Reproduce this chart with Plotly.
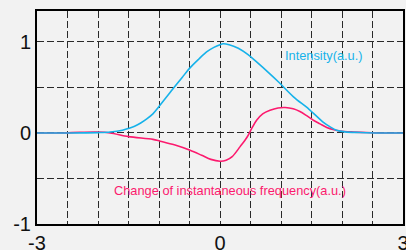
import numpy as np
import plotly.graph_objects as go

# Intensity curve (blue)
x_int = [-3.0, -2.5, -2.0, -1.8, -1.6, -1.5, -1.4, -1.3, -1.2, -1.1, -1.0, -0.9, -0.8, -0.62, -0.5,
         -0.35, -0.22, -0.1, 0.0, 0.05, 0.15, 0.3, 0.46, 0.6, 0.8, 0.96, 1.2, 1.46,
         1.69, 1.8, 1.91, 2.05, 2.3, 2.6, 3.0]
intensity = [0.0, 0.0, 0.004, 0.01, 0.03, 0.05, 0.075, 0.11, 0.155, 0.21, 0.29, 0.375, 0.46, 0.61, 0.71,
             0.81, 0.89, 0.94, 0.97, 0.98, 0.97, 0.93, 0.86, 0.78, 0.66, 0.56, 0.40, 0.26,
             0.12, 0.07, 0.03, 0.012, 0.005, 0.0, 0.0]

# Change of instantaneous frequency (pink)
x_freq = [-3.0, -2.6, -2.3, -2.0, -1.8, -1.5, -1.1, -0.98, -0.75, -0.49, -0.3, -0.15, 0.0, 0.1,
          0.2, 0.33, 0.44, 0.52, 0.6, 0.7, 0.82, 0.95, 1.07, 1.2, 1.31, 1.42, 1.53, 1.64, 1.75,
          1.87, 1.97, 2.15, 2.4, 2.7, 3.0]
freq = [0.0, 0.0, 0.008, 0.01, 0.0, -0.04, -0.07, -0.09, -0.13, -0.19, -0.245, -0.29, -0.31, -0.30,
        -0.26, -0.15, -0.05, 0.05, 0.14, 0.21, 0.25, 0.275, 0.28, 0.265, 0.235, 0.19, 0.14, 0.10, 0.06,
        0.035, 0.022, 0.012, 0.005, 0.0, 0.0]

x_ticks = [-3, -2.5, -2, -1.5, -1, -0.5, 0, 0.5, 1, 1.5, 2, 2.5, 3]
x_ticklabels = ["-3", "", "", "", "", "", "0", "", "", "", "", "", "3"]
y_ticks = [-1, -0.5, 0, 0.5, 1]
y_ticklabels = ["-1", "", "0", "", "1"]

BLUE = "#16b2ea"
PINK = "#fc1a6e"
BG = "#f2f2f2"

fig = go.Figure()
fig.add_trace(go.Scatter(x=x_freq, y=freq, mode="lines", line=dict(color=PINK, width=1.6, shape="spline", smoothing=0.9),
                         showlegend=False, hoverinfo="skip"))
fig.add_trace(go.Scatter(x=x_int, y=intensity, mode="lines", line=dict(color=BLUE, width=1.6, shape="spline", smoothing=0.9),
                         showlegend=False, hoverinfo="skip"))

fig.add_annotation(x=1.70, y=0.85, text="Intensity(a.u.)", showarrow=False,
                   font=dict(family="Liberation Sans, Arial", size=12.8, color=BLUE))
fig.add_annotation(x=0.16, y=-0.63, text="Change of instantaneous frequency(a.u.)", showarrow=False,
                   font=dict(family="Liberation Sans, Arial", size=12.8, color=PINK))

axis_common = dict(showline=True, linecolor="black", linewidth=2, mirror=True,
                   showgrid=True, gridcolor="#2a2a2a", gridwidth=1.4, griddash="7px,3px",
                   zeroline=False, ticks="", automargin=False, ticklabeloverflow="allow",
                   tickfont=dict(family="Liberation Sans, Arial", size=20, color="#111111"))

fig.update_xaxes(range=[-3, 3], tickmode="array", tickvals=x_ticks, ticktext=x_ticklabels, **axis_common)
fig.update_yaxes(range=[-1, 1.34], tickmode="array", tickvals=y_ticks, ticktext=y_ticklabels, **axis_common)

fig.update_layout(width=406, height=250, margin=dict(l=37, r=3, t=11, b=26),
                  paper_bgcolor=BG, plot_bgcolor=BG)

fig.write_html("out.html", config={"displayModeBar": False},
               post_script="document.body.style.margin='0';document.body.style.background='#f2f2f2';")
